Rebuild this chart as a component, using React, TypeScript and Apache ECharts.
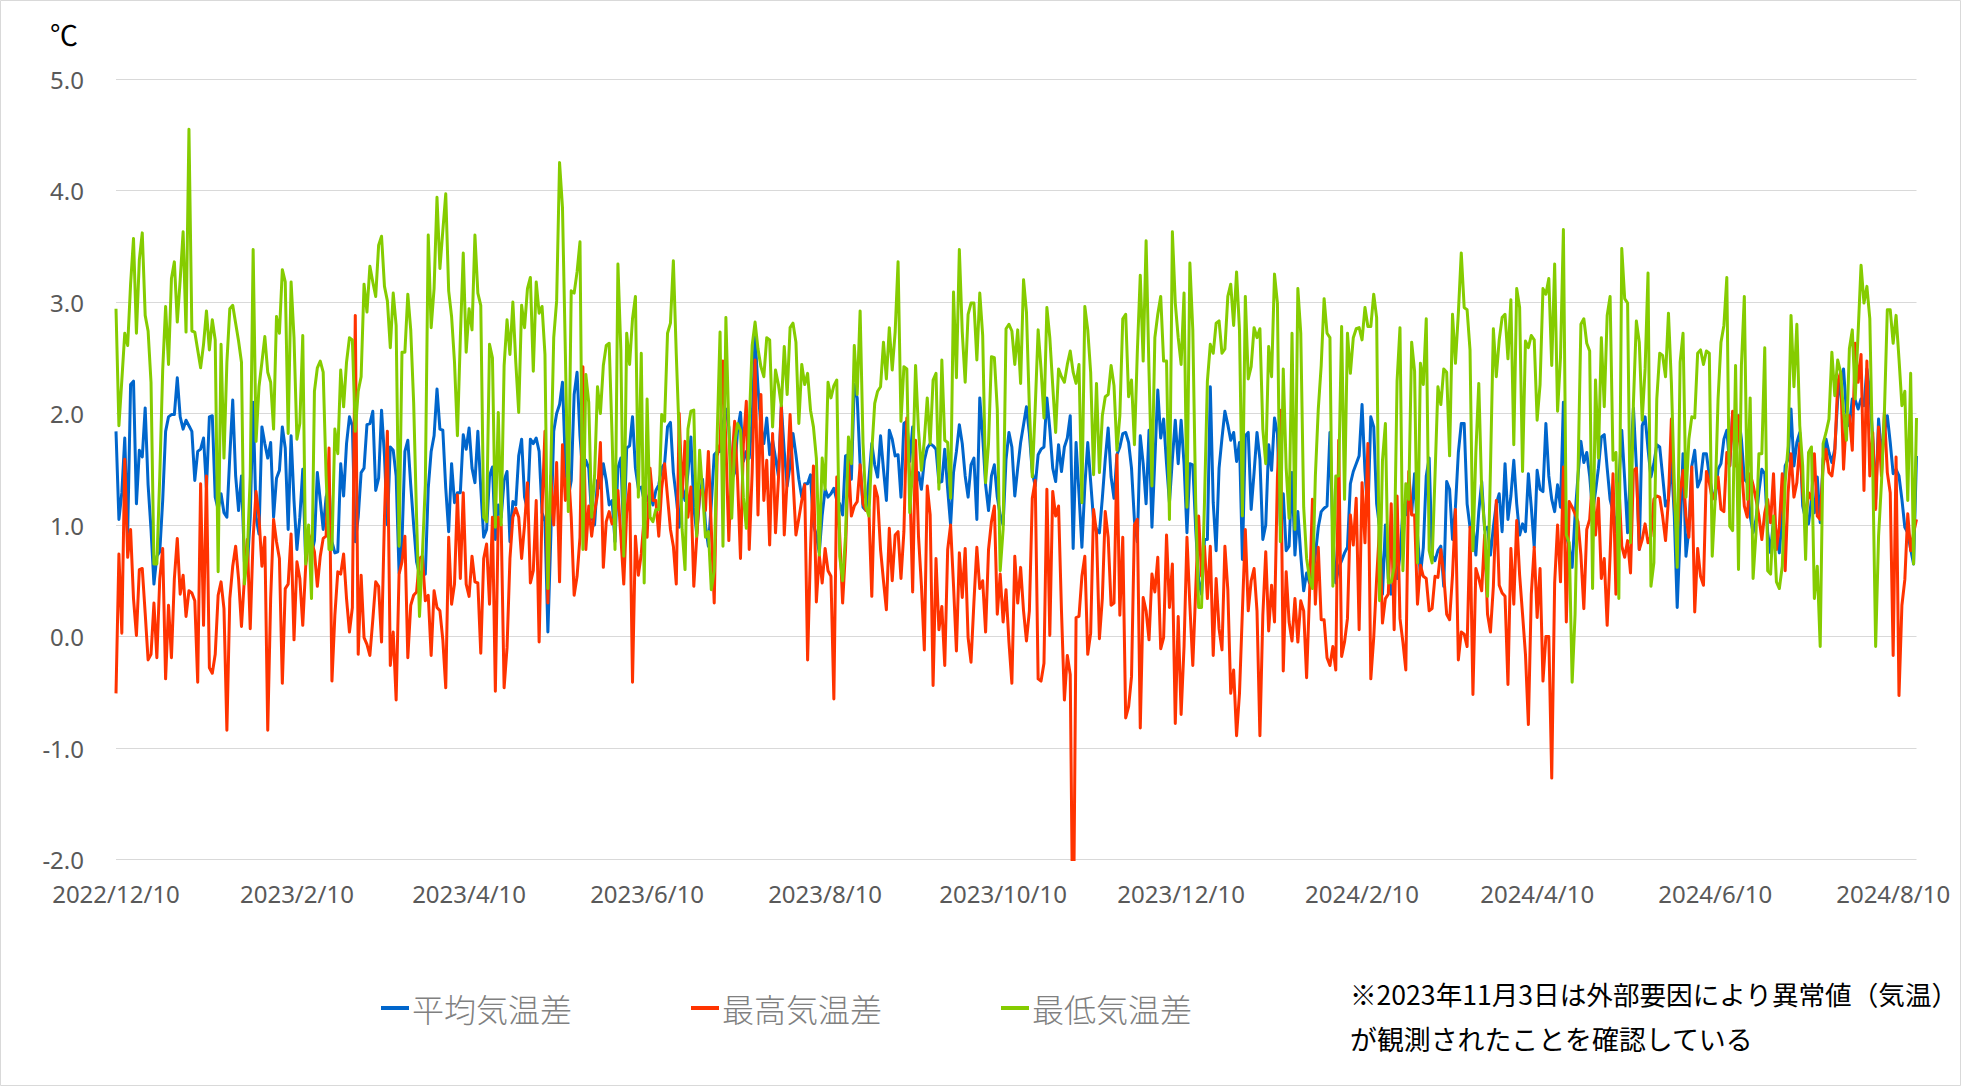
import React, { useEffect, useRef } from "react";
import * as echarts from "echarts";

const tickDates = ["2022/12/10","2023/2/10","2023/4/10","2023/6/10","2023/8/10","2023/10/10","2023/12/10","2024/2/10","2024/4/10","2024/6/10","2024/8/10"];
const yMin = -2, yMax = 5, yStep = 1;
const seriesNames = ["平均気温差","最高気温差","最低気温差"];
const noteLines = ["※2023年11月3日は外部要因により異常値（気温）","が観測されたことを確認している"];

const avgA = [1.84,1.05,1.29,1.78,.92,2.26,2.29,1.19,1.67,1.61,2.05,1.36,.96,.47,.72,.76,1.22,1.84,1.97,1.99,1.99,2.32,1.97,1.86,1.94,1.89,1.84,1.4,1.66,1.68,1.78,1.33,1.97,1.98,1.25,1.14,1.28,1.11,1.07,1.62,2.12,1.44,1.13,1.44,.67,.63,1.07,2.1,1.07,.92,1.88,1.73,1.6,1.74,1.07,1.42,1.49,1.88,1.69,.96,1.8,1.22,.78,1.07,1.5,.67,.89,.74,.86,1.47,1.22,.96,1.25,1.36,.85,.75,.76,1.55,1.26,1.73,1.97,1.89,.85,1.07,1.47,1.51,1.9,1.91,2.02,1.31,1.42,2.03,1.62,1,1.7,1.67,1.44,.57];
const avgB = [.85,1.66,1.76,1.36,1,.67,.56,.58,.56,1.33,1.66,1.8,2.22,1.86,1.85,1.33,.94,1.55,1.2,1.29,1.29,1.81,1.68,1.87,1.51,1.38,1.84,1.33,.89,.96,1.44,1.52,.87,1.18,1.07,1.4,1.48,.85,1.21,1.18,1.62,1.77,1.25,1.14,1.77,1.73,1.78,1.66,1.11,1.03,.04,.89,1.84,2,2.08,2.28,1.55,1.25,1.4,2.17,2.37,1.8,1.44,1.58,1.51,1.07,1,1.4,1.33,1.55,1.4,1.18,1.22,.85,1.51,1.6,.89,1.69,1.71,1.97,1.51,1.33,1.34,1.22,1.22,1.29,1.18,1.31,1.36,1.51,1.55,1.88,1.92,1.47,1.25,.98,1.34,1.22,1.47,1.79,1.16,.92,1.25];
const avgC = [1.41,1,.81,1.19,1.63,1.66,1.66,1.91,2.04,1.88,1.41,1.47,1.85,2.01,1.57,1.66,1.6,1.95,2.69,2.23,1.88,1.73,1.96,1.63,1.76,1.6,1.44,2.07,1.66,1.35,1.54,1.82,1.63,1.41,1.25,1.37,1.37,1.45,1,.91,.75,1.09,1.32,1.25,1.28,1.33,1.22,1.19,1.09,1.62,1.63,1.41,2.26,2.14,1.54,1.16,1.13,1.41,1.73,1.54,1.43,1.8,1.5,1.22,1.85,1.77,1.62,1.63,1.25,1.91,1.93,1.57,1.88,1.35,1.47,1.32,1.58,1.69,1.73,1.71,1.68,1.38,1.39,1.68,1.32,1,1.47,1.66,1.9,1.73,1.44,1.25,1.54,1.6,1.05,2.14,1.79,1.36,1.13,1.44,1.54,1.25,1.09];
const avgD = [1,1.59,1.83,1.7,1.26,1.51,1.74,1.9,2.06,1.82,1.47,1.35,1.63,1.68,1.7,2.14,1.86,1.51,1.39,1.72,1.48,1.7,1.78,1.98,.79,1.74,1.28,.8,1.35,1.74,1.39,1.04,.96,.93,1.24,1.59,1.87,1.43,1.24,1.63,1.7,1.82,1.83,1.74,1.51,1.04,.85,1.8,1.55,1.19,1.85,.98,1.59,2.21,1.78,1.95,1.55,1.2,1.59,1.94,1.55,1.94,1.55,.93,1.55,1.54,.96,.5,.38,.87,.87,2.24,1.2,.77,1.51,1.78,2.02,1.9,1.76,1.83,1.57,1.74,.69,1.8,1.83,1.14,1.47,1.83,1.59,.87,1,1.72,1.49,1.96,1.82,1,1.28,.77,.81,1.47,.73,1.12];
const avgE = [.73,.41,.57,.48,.52,.73,.98,1.12,1.15,1.17,1.83,.91,.48,.62,.68,.75,.8,1.37,1.48,1.55,1.62,2.08,1.48,1.09,1.97,1.88,1.19,.98,.38,1,.52,.38,.55,.52,.73,1.12,1.09,1.28,1.1,1.46,.91,.55,.8,1.44,1.6,.73,.68,.77,.81,.45,1.39,1.32,.87,1.16,1.65,1.91,1.91,1.19,.98,1,.73,1.12,1.39,.96,.98,.73,.98,1.19,1.28,.94,1.55,1.05,1.26,1.58,1.19,.91,1.01,.94,1.46,1.16,.8,1.49,1.32,1.3,1.91,1.44,1.23,1.12,1.36,1.16,2.1,.91,.8,.62,1.09,1.44,1.75,1.56,1.65,1.44,1.12,1.3,1.51,1.79,1.81,1.51,1.23,1.12,.94];
const avgF = [1.38,1.85,1.41,.93,1.53,2.05,1.53,.78,1.89,1.97,1.68,1.43,1.55,1.72,1.7,1.44,1.17,1.23,1.59,1.08,.26,.93,1.64,.72,.96,1.53,1.67,1.34,1.41,1.64,1.64,1.44,1.29,1.23,1.5,1.55,1.77,1.85,1.53,2.01,1.83,1.98,1.77,1.41,1.38,1.08,.93,1.05,1.3,1.5,1.46,.93,.75,1.05,.93,.75,1.08,1.53,1.59,2.04,1.53,1.74,1.83,1.17,1.05,1.01,1.23,1.11,1.43,1.02,1.59,1.77,1.65,1.56,1.68,2.13,2.28,2.4,2.01,1.89,2.13,2.12,2.04,2.13,2.07,2.4,2.19,1.77,1.23,1.95,1.65,1.83,1.98,1.74,1.46,1.5,1.44,1.23,.98,.93,.78,.65,1.62];

const maxA = [-.51,.74,.03,1.59,.71,.96,.34,.01,.6,.61,.21,-.21,-.16,.3,-.19,.52,.79,-.38,.28,-.19,.52,.88,.38,.55,.18,.41,.39,.32,-.41,1.37,.1,1.44,-.28,-.33,-.16,.37,.49,.25,-.84,.34,.63,.81,.52,.09,.52,.87,.07,.89,1.3,1.07,.63,.89,-.84,.34,1.05,.85,.7,-.42,.43,.47,.92,-.03,.67,.52,.1,.63,.92,.85,.76,.45,.72,.88,.9,1.69,-.4,.19,.58,.56,.74,.34,.04,.26,2.88,-.16,.55,-.01,-.07,-.17,.15,.49,.45,-.05,1.07,1.84,-.26,.04,-.57,.56];
const maxB = [.67,.9,-.19,.28,.37,.4,.7,.72,.32,.37,-.17,.41,.26,.23,-.03,-.46,.89,.29,.47,1.27,.52,1.29,.47,.36,.72,.49,.48,-.15,.7,.83,.29,1.07,-.49,1.07,1,-.46,-.1,.7,1.07,1.15,1.07,.7,1,1.38,.48,.59,1.22,-.05,1.14,1.84,.3,1.44,1,1.56,.49,1.72,1.22,1.51,1.07,.37,.54,.89,2.42,.78,1.17,.9,1.12,1.27,1.74,.62,1.03,1.12,1.01,1.07,1.31,.9,.47,1.11,1.37,-.41,.9,.55,.74,1.07,.89,1.51,1.22,1.22,.9,1.33,1.55,1.25,.96,.81,.47,2,1.25,1.75,1.07,1.34,.45,.89,1.3];
const maxC = [1.32,1.13,1.66,.97,.3,1.62,1.73,2.47,1.73,.86,1.54,1.93,1.41,.7,1.73,2.11,.78,1.47,2.48,1.09,2.17,1.22,1.58,.82,1.82,.93,1.41,2.07,.91,1.41,1.99,1.41,.91,1.06,1.22,1.36,-.21,.78,1.53,.31,.73,.48,.79,.59,.54,-.56,1.43,.91,.3,.78,1.57,1.08,1.17,1.21,1.54,1.19,1.13,1.14,.36,1.35,1.25,.78,.5,.24,.97,.5,.91,.94,.52,.94,1.96,1.41,.4,1.76,.9,.46,-.12,1.35,1.09,-.44,.7,.06,.27,-.26,.78,1,.46,-.13,.75,.35,.79,-.01,-.23,.31,.8,.43,.5,.04,.78,1.03,1.17,.2];
const maxD = [.56,.13,.42,-.05,-.42,.72,.3,.62,.23,-.04,.23,1.24,1.4,-.38,-.4,-.24,1.32,.01,1.3,1.08,1.17,.23,-.57,-.17,-.34,-3,.17,.18,.54,.72,-.16,.03,1.14,.93,-.02,.34,1.12,.89,.28,.3,1.63,.19,.89,-.73,-.63,-.36,1,1.05,-.82,.35,.23,-.03,.56,.4,.71,-.11,-.01,.91,.26,.65,-.78,.18,-.7,-.09,.89,.28,-.26,.42,1.08,.54,.81,.34,.81,-.17,.52,.07,-.12,.81,.42,-.51,-.3,-.89,-.51,.23,.96,.23,.5,.61,.23,-.89,.19,.76,.05,.46,.13,1.43,2.03,-.31,.58,.13,-.04,.34,-.05];
const maxE = [.32,.23,-.37,.38,1.23,.29,.8,.15,.15,-.19,-.26,-.09,-.3,1.76,-.18,-.05,.16,1.09,.82,1.24,.06,1.38,.84,1.73,-.38,-.01,.52,.98,.12,.34,.38,1.19,.06,1.26,.16,-.05,-.3,1.48,1.09,1.09,.29,.64,.54,.52,.23,.25,.54,.53,.78,.55,.2,.15,.55,1.14,-.21,.04,.02,-.09,.98,-.52,.61,.52,.41,.91,.2,.04,.45,1.22,.46,.39,.36,-.43,.79,.29,1.04,.55,.2,-.16,-.79,.38,.8,.17,.61,-.4,0,0,-1.27,.48,1,.49,1.52,.13,1.21,1.16,1.1,1.03,.73,.25,.96,1.05,1.42,.91,1.24,.52,.7,.1,.73,1.46,.38];
const maxF = [1.37,.81,.71,.86,.57,1.49,1.51,.78,.87,1.01,.84,.9,1.23,1.26,1.25,1.08,.86,1.23,1.95,1.23,.93,1.29,1.49,1.08,.89,1.52,.22,.79,.54,.46,1.48,1.38,1.23,1.29,1.43,1.14,1.12,1.65,1.53,2.02,1.53,1.98,1.53,1.17,1.07,1.46,1.36,1.23,1.08,.87,1.11,1.23,1.02,1.46,.78,.99,1.46,.59,1.29,1.64,1.25,1.38,1.73,1.29,1.05,1.29,1.23,1.64,1.08,1.05,1.53,1.68,1.47,1.44,1.65,2.28,2.37,1.5,1.98,1.98,1.67,2.63,2.28,2.53,1.31,2.47,1.44,1.83,1.14,1.88,1.44,2.01,1.47,1.29,-.17,1.61,-.53,.28,.51,1.1,.77,.93,1.05];

const minA = [2.94,1.89,2.3,2.72,2.61,3.16,3.57,2.72,3.38,3.62,2.88,2.74,2.28,.65,.65,1.44,2.39,2.96,2.44,3.21,3.36,2.82,3.2,3.63,2.73,4.55,2.74,2.73,2.57,2.41,2.62,2.92,2.57,2.84,2.66,.58,2.62,1.6,2.46,2.94,2.97,2.81,2.65,2.46,.47,.74,1.44,3.47,1.75,2.24,2.46,2.69,2.37,2.28,1.86,2.87,2.72,3.29,3.18,1.82,3.18,2.68,1.77,1.91,2.7,.65,1,.34,2.2,2.41,2.47,2.37,1.44,.78,.78,1.86,1.64,2.39,2.06,2.46,2.68,2.66,1.84,2.2,2.33,3.16,2.91,3.32,3.18,3.05,3.51,3.59,3.14,3.01,2.59,3.08,2.79,.81];
const minB = [2.55,2.55,3.07,2.75,2.1,1.07,.18,.74,1.36,3.6,2.77,3.12,3.94,3.3,3.64,3.97,3.1,2.87,2.46,1.8,2.68,3.44,2.55,2.94,2.75,3.6,3.08,2.97,1.07,1.03,2.62,2.5,.98,2.01,1,2.43,2.84,2.53,3,2.46,2.01,2.97,2.77,3.12,3.22,2.38,3.18,2.9,2.96,2.53,.43,1.5,2.68,3.01,4.25,3.85,2.53,1.12,3.1,3.08,3.27,3.54,.78,2.35,2.1,1.07,1.44,2.24,2,2.43,2.61,2.63,1.8,.78,3.34,2.57,.72,2.72,2.44,2.85,3.05,1.25,2.54,.48,2.13,1.07,1.03,1.14,1.14,1.99,1.93,2.72,2.81,3.37,2.53,1.8,.96,.6,1.86,2.02,2.03,.9,1.67,1.3];
const minC = [.89,.94,.42,.59,1.79,2.73,.81,2.86,1.88,1.06,1.73,1.91,1.85,1.25,.97,1.91,2.61,2.82,2.58,2.42,2.33,2.68,2.66,1.88,2.39,2.26,2.07,2.6,2.17,2.77,2.81,2.64,1.91,2.44,2.26,2.36,2.03,1.88,1.6,.73,1.6,1.32,2.28,2.14,2.25,2.3,.72,.5,.9,1.79,1.55,2.61,2.17,2.92,1.73,1.16,1.08,1.66,2.09,2.2,2.24,2.64,2.31,2.77,2.39,2.73,3.36,1.93,2.42,2.4,1.11,1.5,2.43,1.85,1.49,1.76,2.14,1.73,2.3,2.36,1.32,2.48,1.76,1.74,1.24,3.09,2.32,3.47,2.73,2.28,2.89,2.99,2.99,2.48,3.08,2.7,1.38,1.73,2.51,2.5,2.04,.59];
const minD = [.96,2.76,2.8,2.74,2.44,2.75,2.27,3.2,2.91,2.05,1.43,2.05,2.75,2.4,1.96,2.95,2.68,2.25,1.83,2.4,2.33,2.28,2.44,2.56,2.37,2.27,2.44,1.2,2.96,2.75,2.37,1.45,2.27,1.47,1.98,2.15,2.17,2.43,2.25,1.67,1.98,2.85,2.89,2.15,2.3,1.72,2.56,3.24,2.47,3.55,2.37,1.35,2.68,2.89,3.05,2.47,2.47,1.05,3.63,2.99,2.68,2.44,3.08,1.16,3.35,2.75,1.2,.26,.26,1.2,2.29,2.62,2.54,2.81,2.83,2.54,2.58,3.05,3.16,2.79,3.27,2.75,1.08,3.05,2.31,2.42,2.77,2.68,2.76,1.86,1.55,2.6,2.33,3.25,2.99,.85,2.4,1.51,1.06,2.72,.96,3.12];
const minE = [2.72,1.16,.7,.52,.43,1.44,2.04,2.43,3.03,2.72,2.68,.45,1.44,1.44,2.78,1.23,2.72,2.36,2.68,2.76,2.77,2.66,2.95,2.78,2.78,3.07,2.86,.32,1.58,1.91,.48,.49,.62,2.29,2.77,.59,1.37,1.23,2.64,2.38,.66,2.45,2.26,2.85,.77,.66,1.44,2.24,2.08,2.4,2.37,1.62,2.89,2.45,2.9,3.44,2.95,2.93,2.57,.77,1.65,2.27,1.3,.98,.36,1.5,2.76,2.33,2.66,2.86,2.89,2.49,3.02,1.72,3.12,2.95,1.48,2.65,2.59,2.7,2.66,1.94,2.26,3.12,3.07,3.21,2.43,3.34,2.02,2.5,3.65,.91,.84,-.41,.2,1.44,2.8,2.85,2.63,2.56,.43,2.3,1.6,2.68,2.06,2.88,3.05,1.58,1.65,.34];
const minF = [3.48,3.03,2.99,.84,2.1,2.83,2.64,1.94,2.4,3.26,.45,.66,2.13,2.54,2.52,2.33,2.9,2.28,1.38,.62,2.46,2.72,1.25,1.77,1.97,1.96,2.54,2.57,2.44,2.56,2.54,.72,1.23,2.13,2.64,2.79,3.22,.99,.95,2.43,.6,2.43,3.05,1.23,2.14,.52,.93,1.64,1.64,2.59,.59,.56,1.08,.49,.43,.63,1.38,1.71,2.88,2.24,2.8,1.89,1.53,.69,1.65,1.7,.34,.63,-.09,1.73,1.83,1.95,2.55,2.16,2.48,2.37,2.01,1.76,2.58,2.75,2.13,2.73,3.33,2.99,3.14,2.85,1.53,-.09,.9,1.38,2.01,2.93,2.93,2.63,2.88,2.49,2.07,2.2,1.22,2.36,.65,1.96];

const avgValues = [...avgA,...avgB,...avgC,...avgD,...avgE,...avgF];
const maxValues = [...maxA,...maxB,...maxC,...maxD,...maxE,...maxF];
const minValues = [...minA,...minB,...minC,...minD,...minE,...minF];

const pointCount = 618;
const categories: string[] = [];
for (let i = 0; i < pointCount; i++) {
  const d = new Date(Date.UTC(2022, 11, 10 + i));
  categories.push(`${d.getUTCFullYear()}/${d.getUTCMonth() + 1}/${d.getUTCDate()}`);
}

export default function App() {
  const ref = useRef<HTMLDivElement>(null);
  useEffect(() => {
    document.body.style.margin = "0";
    document.documentElement.style.overflow = "hidden";
    const chart = echarts.init(ref.current!, undefined, { renderer: "svg" });
    const cjk = '"Noto Sans CJK JP", sans-serif';
    const latin = '"Noto Sans", sans-serif';
    const colors = ["#0066CC", "#FF3300", "#85CC00"];
    const data = [avgValues, maxValues, minValues];
    chart.setOption({
      animation: false,
      color: colors,
      backgroundColor: "#fff",
      grid: { left: 116, top: 79, width: 1800.5, height: 780.5, containLabel: false },
      xAxis: {
        type: "category",
        data: categories,
        boundaryGap: false,
        axisLine: { show: false },
        axisTick: { show: false },
        splitLine: { show: false },
        axisLabel: {
          interval: (_: number, v: string) => tickDates.includes(v),
          color: "#595959",
          fontFamily: latin,
          fontSize: 24,
          margin: 22,
          hideOverlap: false,
        },
      },
      yAxis: {
        type: "value",
        min: yMin,
        max: yMax,
        interval: yStep,
        axisLine: { show: false },
        axisTick: { show: false },
        splitLine: { lineStyle: { color: "#D9D9D9", width: 1 } },
        axisLabel: {
          color: "#595959",
          fontFamily: latin,
          fontSize: 24,
          margin: 32,
          formatter: (v: number) => v.toFixed(1),
        },
      },
      legend: {
        left: 381,
        top: 992,
        padding: 0,
        icon: "rect",
        itemWidth: 28,
        itemHeight: 4,
        itemGap: 119,
        data: seriesNames,
        textStyle: { fontFamily: cjk, fontSize: 32, color: "#808080", fontWeight: 300, padding: [0, 0, 0, -2] },
      },
      series: seriesNames.map((name, i) => ({
        name,
        type: "line",
        data: data[i].slice(0, pointCount),
        showSymbol: false,
        symbol: "none",
        lineStyle: { width: 3, color: colors[i], join: "round" },
        itemStyle: { color: colors[i] },
      })),
      graphic: [
        { type: "rect", shape: { x: 0.5, y: 0.5, width: 1960, height: 1085 }, style: { fill: "none", stroke: "#D9D9D9", lineWidth: 1 }, silent: true },
        { type: "text", x: 50, y: 20, style: { text: "℃", fontFamily: cjk, fontSize: 28, fill: "#000" } },
        { type: "text", x: 1350, y: 980, style: { text: noteLines[0], fontFamily: cjk, fontSize: 26.6, fill: "#000" } },
        { type: "text", x: 1350, y: 1025, style: { text: noteLines[1], fontFamily: cjk, fontSize: 26.9, fill: "#000" } },
      ],
    });
    return () => chart.dispose();
  }, []);
  return <div ref={ref} style={{ width: 1961, height: 1086 }} />;
}
